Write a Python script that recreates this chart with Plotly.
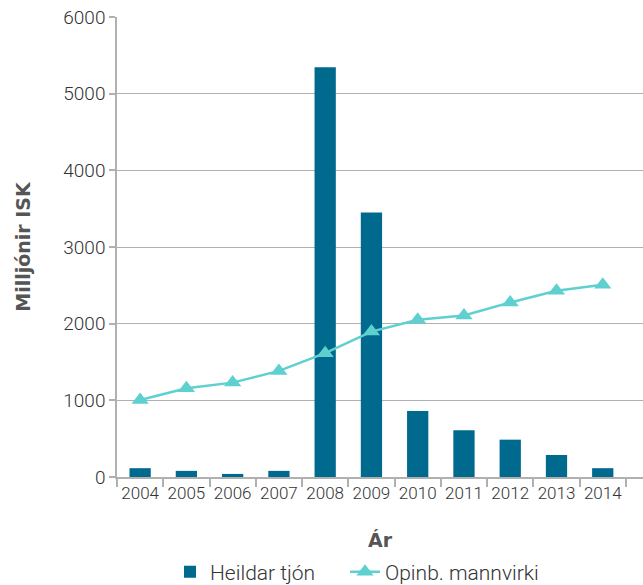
import plotly.graph_objects as go

years = ["2004", "2005", "2006", "2007", "2008", "2009", "2010", "2011", "2012", "2013", "2014"]
heildar_tjon = [115, 80, 40, 80, 5345, 3450, 860, 610, 487, 287, 115]
opinb_mannvirki = [1005, 1158, 1231, 1384, 1615, 1897, 2050, 2106, 2276, 2428, 2507]

bar_color = "#006A8E"
line_color = "#5ED0D0"
font_family = "Roboto, Liberation Sans, Arial, sans-serif"
title_family = "DejaVu Sans, Liberation Sans, Arial, sans-serif"

fig = go.Figure()
fig.add_trace(go.Bar(
    x=years, y=heildar_tjon, name="Heildar tjón", legend="legend",
    marker=dict(color=bar_color, line=dict(width=0)), width=0.46,
))
fig.add_trace(go.Scatter(
    x=years, y=opinb_mannvirki, name="Opinb. mannvirki", mode="lines+markers", legend="legend2",
    line=dict(color=line_color, width=2.5),
    marker=dict(symbol="triangle-up", size=15, color=line_color),
))

legend_font = dict(size=21, color="#333333", weight=300)
fig.update_layout(
    width=643, height=585,
    margin=dict(l=117, r=0, t=17, b=108),
    paper_bgcolor="white", plot_bgcolor="white",
    font=dict(family=font_family, size=17, color="#333333", weight=300),
    showlegend=True,
    legend=dict(orientation="h", xref="container", yref="container",
                x=170 / 643, xanchor="left", y=(585 - 572) / 585, yanchor="middle",
                font=legend_font),
    legend2=dict(orientation="h", xref="container", yref="container",
                 x=345 / 643, xanchor="left", y=(585 - 572) / 585, yanchor="middle",
                 font=legend_font),
)
fig.update_xaxes(
    type="category", range=[-0.5, 10.87], automargin=False, tickangle=0,
    showline=True, linecolor="#b0b0b0", linewidth=1.5,
    ticks="outside", tickson="boundaries", ticklen=8, tickcolor="#b0b0b0", tickwidth=1.5,
    showgrid=False, tickfont=dict(size=17, color="#333333", weight=300),
    title=dict(text="Ár", font=dict(family=title_family, size=19, color="#555555", weight=700), standoff=32),
)
fig.update_yaxes(
    range=[0, 6000], tickvals=[0, 1000, 2000, 3000, 4000, 5000, 6000], automargin=False,
    showline=True, linecolor="#b0b0b0", linewidth=1.5,
    ticks="outside", ticklen=6, tickcolor="#b0b0b0", tickwidth=1.5,
    showgrid=True, gridcolor="#b0b0b0", gridwidth=1.2,
    zeroline=False,
    tickfont=dict(size=19, color="#333333", weight=300),
    title=dict(text="Milljónir ISK", font=dict(family=title_family, size=19, color="#555555", weight=700), standoff=28),
)

fig.write_html("out.html", config={"displayModeBar": False},
               post_script="document.body.style.margin='0';")
